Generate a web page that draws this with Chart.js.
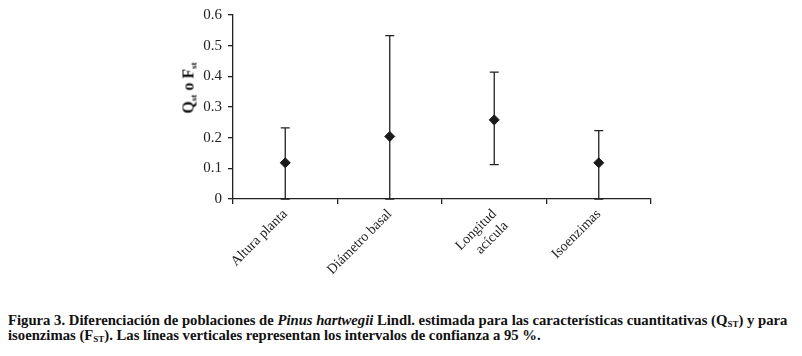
<!DOCTYPE html>
<html>
<head>
<meta charset="utf-8">
<script src="https://cdn.jsdelivr.net/npm/chart.js@4.4.1/dist/chart.umd.min.js"></script>
<style>
  body { margin: 0; background: #fff; }
  #wrap { position: relative; width: 802px; height: 356px; background: #fff; overflow: hidden; }
  #box { position: absolute; left: 0; top: 0; width: 802px; height: 290px; }
  #ytitle {
    position: absolute; left: 189px; top: 88px;
    transform: translate(-50%, -50%) rotate(-90deg);
    font: bold 16px "Liberation Serif", serif; white-space: nowrap; color: #111;
  }
  #ytitle sub { font-size: 9px; vertical-align: -3px; }
  #caption {
    position: absolute; left: 8px; top: 313px; width: 800px;
    font: bold 14.7px "Liberation Serif", serif; line-height: 15px; color: #111;
    white-space: nowrap;
  }
  #caption sub { font-size: 9px; vertical-align: -2px; line-height: 0; }
</style>
</head>
<body>
<div id="wrap">
  <div id="box"><canvas id="chart"></canvas></div>
  <div id="ytitle">Q<sub>st</sub> o F<sub>st</sub></div>
  <div id="caption">Figura 3. Diferenciación de poblaciones de <i>Pinus hartwegii</i> Lindl. estimada para las características cuantitativas (Q<sub>ST</sub>) y para<br>isoenzimas (F<sub>ST</sub>). Las líneas verticales representan los intervalos de confianza a 95 %.</div>
</div>
<script>
const categories = ['Altura planta', 'Diámetro basal', ['Longitud', 'acícula'], 'Isoenzimas'];
const estimates = [0.118, 0.204, 0.258, 0.118];
const lowerCI = [0, 0, 0.112, 0];
const upperCI = [0.232, 0.533, 0.414, 0.223];

// vertical confidence intervals with small caps
const errorBars = {
  id: 'errorBars',
  beforeDatasetsDraw(chart) {
    const ctx = chart.ctx;
    const x = chart.scales.x, y = chart.scales.y;
    ctx.save();
    ctx.strokeStyle = '#222';
    ctx.lineWidth = 1.3;
    estimates.forEach((v, i) => {
      const px = x.getPixelForValue(i);
      const top = y.getPixelForValue(upperCI[i]);
      const bot = y.getPixelForValue(lowerCI[i]);
      ctx.beginPath();
      ctx.moveTo(px, top); ctx.lineTo(px, bot);
      ctx.moveTo(px - 4.5, top); ctx.lineTo(px + 4.5, top);
      ctx.moveTo(px - 4.5, bot); ctx.lineTo(px + 4.5, bot);
      ctx.stroke();
    });
    ctx.restore();
  }
};

const ctx = document.getElementById('chart').getContext('2d');
new Chart(ctx, {
  type: 'line',
  data: {
    labels: categories,
    datasets: [{
      data: estimates,
      showLine: false,
      pointStyle: 'rectRot',
      pointRadius: 5,
      pointBackgroundColor: '#1a1a1a',
      pointBorderColor: '#1a1a1a',
      pointBorderWidth: 1
    }]
  },
  options: {
    responsive: true,
    maintainAspectRatio: false,
    animation: false,
    layout: { padding: { top: 14, right: 151, left: 0, bottom: 0 } },
    scales: {
      x: {
        offset: true,
        grid: { offset: true, drawOnChartArea: false, color: '#222', tickLength: 5, lineWidth: 1.3 },
        border: { display: true, color: '#222', width: 1.3 },
        ticks: {
          color: '#222', minRotation: 45, maxRotation: 45, padding: 2,
          font: { family: 'Liberation Serif', size: 14 }
        },
        afterFit: (s) => { s.height = 91; }
      },
      y: {
        min: 0, max: 0.6,
        grid: { drawOnChartArea: false, color: '#222', tickLength: 5, lineWidth: 1.3 },
        border: { display: true, color: '#222', width: 1.3 },
        ticks: {
          stepSize: 0.1, color: '#222', padding: 6,
          font: { family: 'Liberation Serif', size: 15 },
          callback: (v) => v === 0 ? '0' : v.toFixed(1)
        },
        afterFit: (s) => { s.width = 233; }
      }
    },
    plugins: { legend: { display: false }, tooltip: { enabled: false } }
  },
  plugins: [errorBars]
});
</script>
</body>
</html>
